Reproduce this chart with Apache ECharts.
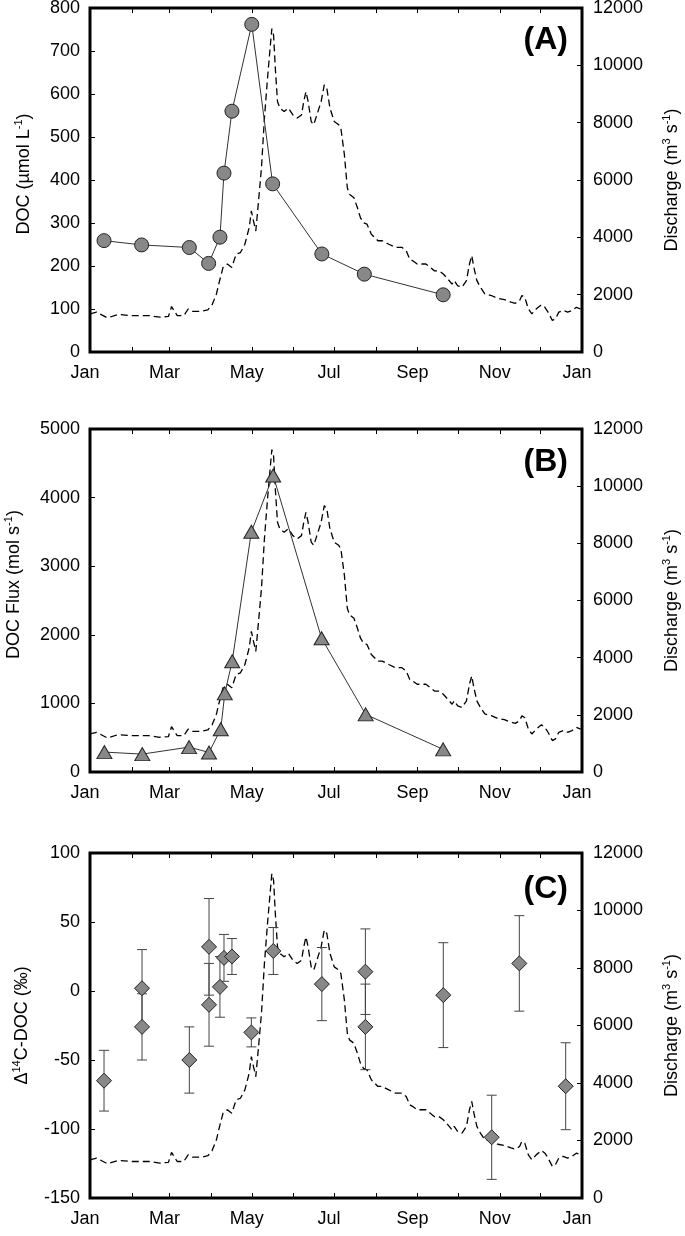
<!DOCTYPE html>
<html><head><meta charset="utf-8">
<script src="https://cdn.jsdelivr.net/npm/echarts@6/dist/echarts.min.js"></script>
<style>html,body{margin:0;padding:0;background:#fff}#c{width:685px;height:1236px}</style>
</head><body><div id="c"></div>
<script>
const monthLabels = ['Jan','Feb','Mar','Apr','May','Jun','Jul','Aug','Sep','Oct','Nov','Dec'];
const panelLabels = ['(A)','(B)','(C)'];

// Discharge (m3 s-1), day of year
const dischargeDays = [0,4.9,12.9,21,30.7,43.7,51.8,58.2,60.5,64.7,69.6,72.8,76,82.5,87.4,90.6,93.8,95.5,98.7,101.9,105.2,108.4,111.6,114.9,118.1,119.7,121.3,123,124.6,127.2,129.4,131.7,133.6,134.9,136.2,137.5,139.1,140.8,144,147.2,150.5,153.7,156.9,158.6,160.2,161.8,164.1,166,168.3,171.5,173.8,175.7,178,181.2,184.5,186.1,188.7,190.9,192.5,195.8,198.4,200.6,202.9,205.5,208.7,211.3,213.6,216.8,221.7,226.5,231.4,234.6,237.2,239.5,242.7,245.9,249.2,252.4,255.6,258.9,262.1,265.4,268.6,270.2,272.8,276,279.3,281.5,283.2,284.8,287,289.6,292.9,297.7,302.6,307.4,312.3,315.5,318.7,320.4,322.6,325.2,327.8,331,334.9,337.5,339.8,343,345.3,347.8,351.1,354.3,357.6,360.8,364];
const dischargeQ = [1330,1390,1190,1310,1270,1270,1215,1240,1585,1270,1270,1500,1420,1420,1470,1650,2025,2370,2950,3070,2950,3410,3470,3760,4340,4920,4570,4220,5030,6420,8160,9550,10590,11280,11050,9890,8740,8510,8390,8510,8270,8160,8270,8740,9080,8740,8040,7930,8270,8740,9320,9200,8510,8040,7930,7810,6890,5730,5500,5380,5030,4690,4510,4460,4110,3990,3880,3880,3760,3650,3650,3530,3240,3180,3070,3070,3070,2950,2830,2830,2720,2550,2370,2490,2310,2260,2490,3070,3360,2950,2490,2260,2030,1970,1870,1830,1740,1700,1790,1970,1900,1500,1330,1500,1650,1560,1390,1100,1160,1390,1450,1390,1450,1560,1500];

// (A) DOC (umol L-1)
const docDays = [10.4,38.3,73.7,88,96.4,99.4,105.3,120,135.5,172,203.5,262];
const docVals = [259,249,243,206,267,416,560,762,391,228,181,133];

// (B) DOC flux (mol s-1)
const fluxDays = [10.7,38.8,73.5,88.3,97,100,105.5,119.7,135.9,171.8,204.5,262];
const fluxVals = [290,261,363,285,624,1146,1615,3501,4323,1950,840,330];

// (C) Delta14C-DOC (permil) with errors
const c14Days = [10.4,38.6,38.6,73.7,88.3,88.3,96.4,99.4,105.3,119.7,136,172,204.3,204.3,262.1,298,318.5,352.9];
const c14Vals = [-65,2,-26,-50,32,-10,3,24,25,-30,29,5,14,-26,-3,-106,20,-69];
const c14Err  = [22,28,24,24,35,30,22,17,13,10.5,17,26.5,31,31,38,30.5,34.6,31.5];

const FONT = "'Liberation Sans', Arial, Helvetica, sans-serif";
const BASE = Date.UTC(2010,0,1), DAY = 86400000;
const t = d => BASE + d*DAY;

const grids = [
  {left:90, width:492, top:8, height:344},
  {left:90, width:492, top:429, height:343},
  {left:90, width:492, top:853, height:345}
].map(g => Object.assign(g, {show:true, borderColor:'#000', borderWidth:3, backgroundColor:'transparent', containLabel:false, outerBoundsMode:'none'}));

function xAx(g, pos) {
  return {
    type:'time', gridIndex:g, position:pos, min:BASE, max:t(365),
    splitNumber:12, minInterval:28*DAY, maxInterval:31*DAY,
    axisLine:{show:false, onZero:false},
    axisTick:{show:true, inside:true, length:5, lineStyle:{color:'#000', width:1}},
    axisLabel: pos === 'bottom' ? {
      show:true, fontSize:18, fontFamily:FONT, color:'#000', margin:12, padding:[0,10,0,0],
      showMinLabel:true, showMaxLabel:true,
      formatter: v => { const m = new Date(v).getUTCMonth(); return m % 2 === 0 ? monthLabels[m] : ''; }
    } : {show:false},
    splitLine:{show:false}
  };
}
const nameStyle = pad => ({
  fontSize:18, fontFamily:FONT, color:'#000', lineHeight:22, padding:pad,
  rich:{ sup:{fontSize:11, fontFamily:FONT, color:'#000', verticalAlign:'top', lineHeight:22} }
});
function yAx(g, pos, min, max, interval, name, nameGap, pad) {
  return {
    type:'value', gridIndex:g, position:pos, min, max, interval,
    name, nameLocation:'middle', nameGap, nameRotate:90, nameTextStyle:nameStyle(pad || 0),
    axisLine:{show:false, onZero:false},
    axisTick:{show:true, inside:true, length:5, lineStyle:{color:'#000', width:1}},
    axisLabel:{fontSize:18, fontFamily:FONT, color:'#000', margin: pos === 'left' ? 10 : 11,
      formatter: v => String(v)},
    splitLine:{show:false}
  };
}

const dischargeData = dischargeDays.map((d,i) => [t(d), dischargeQ[i]]);
const dischargeSeries = (xi, yi) => ({
  type:'line', xAxisIndex:xi, yAxisIndex:yi, data:dischargeData, showSymbol:false, symbol:'none',
  lineStyle:{color:'#000', width:1.3, type:[7,4]}, z:2, silent:true
});
const markerStyle = {color:'#888888', borderColor:'#222', borderWidth:1, opacity:1};

const option = {
  useUTC:true,
  animation:false,
  backgroundColor:'#fff',
  title: panelLabels.map((txt,i) => ({
    text:txt, right:117, top:[24,446,873][i], padding:0,
    textStyle:{fontSize:32, fontWeight:'bold', fontFamily:FONT, color:'#000'}
  })),
  grid: grids,
  xAxis: [xAx(0,'bottom'), xAx(0,'top'), xAx(1,'bottom'), xAx(1,'top'), xAx(2,'bottom'), xAx(2,'top')],
  yAxis: [
    yAx(0,'left',0,800,100,'DOC (µmol L{sup|-1})',55,[0,0,0,12]),
    yAx(0,'right',0,12000,2000,'Discharge (m{sup|3} s{sup|-1})',79),
    yAx(1,'left',0,5000,1000,'DOC Flux (mol s{sup|-1})',65,[0,0,0,32]),
    yAx(1,'right',0,12000,2000,'Discharge (m{sup|3} s{sup|-1})',79),
    yAx(2,'left',-150,100,50,'Δ{sup|14}C-DOC (‰)',55),
    yAx(2,'right',0,12000,2000,'Discharge (m{sup|3} s{sup|-1})',79)
  ],
  series: [
    dischargeSeries(0,1),
    dischargeSeries(2,3),
    dischargeSeries(4,5),
    {
      type:'line', xAxisIndex:0, yAxisIndex:0, data:docDays.map((d,i)=>[t(d), docVals[i]]),
      symbol:'circle', symbolSize:14, itemStyle:markerStyle, lineStyle:{color:'#333', width:1}, z:4
    },
    {
      type:'line', xAxisIndex:2, yAxisIndex:2, data:fluxDays.map((d,i)=>[t(d), fluxVals[i]]),
      symbol:'triangle', symbolSize:[15,13], itemStyle:markerStyle, lineStyle:{color:'#333', width:1}, z:4
    },
    {
      type:'custom', xAxisIndex:4, yAxisIndex:4, z:3,
      data:c14Days.map((d,i)=>[t(d), c14Vals[i], c14Err[i]]),
      encode:{x:0, y:1},
      renderItem:(params, api) => {
        const x = api.value(0), v = api.value(1), e = api.value(2);
        const top = api.coord([x, v+e]), bot = api.coord([x, v-e]);
        const hw = 5, st = {stroke:'#444', lineWidth:1};
        return {type:'group', children:[
          {type:'line', shape:{x1:top[0], y1:top[1], x2:bot[0], y2:bot[1]}, style:st},
          {type:'line', shape:{x1:top[0]-hw, y1:top[1], x2:top[0]+hw, y2:top[1]}, style:st},
          {type:'line', shape:{x1:bot[0]-hw, y1:bot[1], x2:bot[0]+hw, y2:bot[1]}, style:st}
        ]};
      }
    },
    {
      type:'scatter', xAxisIndex:4, yAxisIndex:4, data:c14Days.map((d,i)=>[t(d), c14Vals[i]]),
      symbol:'diamond', symbolSize:15, itemStyle:markerStyle, z:5
    }
  ]
};
const chart = echarts.init(document.getElementById('c'), null, {renderer:'canvas'});
chart.setOption(option);
</script>
</body></html>
